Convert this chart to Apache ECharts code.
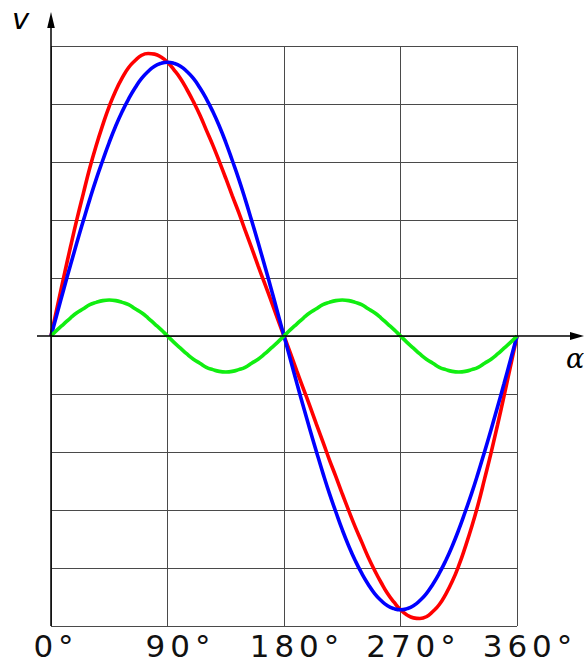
<!DOCTYPE html>
<html><head><meta charset="utf-8">
<script src="https://cdn.jsdelivr.net/npm/echarts@6/dist/echarts.min.js"></script>
<style>
html,body{margin:0;padding:0;background:#fff;}
#c{width:584px;height:662px;}
</style></head><body><div id="c"></div>
<script>
// angle (degrees)
const angles = [0,5,10,15,20,25,30,35,40,45,50,55,60,65,70,75,80,85,90,
  95,100,105,110,115,120,125,130,135,140,145,150,155,160,165,170,175,180,
  185,190,195,200,205,210,215,220,225,230,235,240,245,250,255,260,265,270,
  275,280,285,290,295,300,305,310,315,320,325,330,335,340,345,350,355,360];
// blue: fundamental
const blue = [0,0.41,0.82,1.22,1.61,1.99,2.36,2.71,3.03,3.34,3.62,3.87,4.09,4.28,4.44,4.56,4.65,4.70,4.72,
  4.70,4.65,4.56,4.44,4.28,4.09,3.87,3.62,3.34,3.03,2.71,2.36,1.99,1.61,1.22,0.82,0.41,0,
  -0.41,-0.82,-1.22,-1.61,-1.99,-2.36,-2.71,-3.03,-3.34,-3.62,-3.87,-4.09,-4.28,-4.44,-4.56,-4.65,-4.70,-4.72,
  -4.70,-4.65,-4.56,-4.44,-4.28,-4.09,-3.87,-3.62,-3.34,-3.03,-2.71,-2.36,-1.99,-1.61,-1.22,-0.82,-0.41,0];
// green: second harmonic
const green = [0,0.11,0.21,0.31,0.40,0.47,0.54,0.58,0.61,0.62,0.61,0.58,0.54,0.47,0.40,0.31,0.21,0.11,0,
  -0.11,-0.21,-0.31,-0.40,-0.47,-0.54,-0.58,-0.61,-0.62,-0.61,-0.58,-0.54,-0.47,-0.40,-0.31,-0.21,-0.11,0,
  0.11,0.21,0.31,0.40,0.47,0.54,0.58,0.61,0.62,0.61,0.58,0.54,0.47,0.40,0.31,0.21,0.11,0,
  -0.11,-0.21,-0.31,-0.40,-0.47,-0.54,-0.58,-0.61,-0.62,-0.61,-0.58,-0.54,-0.47,-0.40,-0.31,-0.21,-0.11,0];
// red: resultant
const red = [0,0.52,1.03,1.53,2.01,2.46,2.90,3.29,3.64,3.96,4.23,4.45,4.63,4.75,4.84,4.87,4.86,4.81,4.72,
  4.59,4.44,4.25,4.04,3.81,3.55,3.29,3.01,2.72,2.42,2.13,1.82,1.52,1.21,0.91,0.61,0.30,0,
  -0.30,-0.61,-0.91,-1.21,-1.52,-1.82,-2.13,-2.42,-2.72,-3.01,-3.29,-3.55,-3.81,-4.04,-4.25,-4.44,-4.59,-4.72,
  -4.81,-4.86,-4.87,-4.84,-4.75,-4.63,-4.45,-4.23,-3.96,-3.64,-3.29,-2.90,-2.46,-2.01,-1.53,-1.03,-0.52,0];
const xTicks = [0,90,180,270,360];
const xTickLabels = ['0°','90°','180°','270°','360°'];
const yAxisName = 'v';
const xAxisName = 'α';

const chart = echarts.init(document.getElementById('c'), null, {renderer:'svg'});
const pairs = arr => angles.map((a,i)=>[a,arr[i]]);
const gridColor = '#4a4a4a';
const lblStyle = {fontSize:31,color:'#111',fontFamily:'DejaVu Sans'};
chart.setOption({
  animation:false,
  backgroundColor:'#fff',
  grid:{left:51,right:67,top:46,bottom:36},
  xAxis:{type:'value',min:0,max:360,interval:90,
    axisLine:{show:false,onZero:false},axisTick:{show:false},
    splitLine:{show:true,lineStyle:{color:gridColor,width:1}},
    axisLabel:{show:true,margin:4,...lblStyle,
      rich:{s:Object.assign({padding:[0,0,0,10]},lblStyle),l:Object.assign({padding:[0,0,0,26]},lblStyle)},
      formatter:v=>{const k=xTicks.indexOf(v);if(k<0)return '';const t=xTickLabels[k];return (t.length<=2?'{s|':'{l|')+t+'}';}}},
  yAxis:{type:'value',min:-5,max:5,interval:1,
    axisLine:{show:false},axisTick:{show:false},axisLabel:{show:false},
    splitLine:{show:true,lineStyle:{color:gridColor,width:1}}},
  series:[
    {type:'line',data:pairs(red),smooth:true,symbol:'none',lineStyle:{color:'#ff0000',width:3.6},z:3},
    {type:'line',data:pairs(blue),smooth:true,symbol:'none',lineStyle:{color:'#0000ff',width:3.6},z:4},
    {type:'line',data:pairs(green),smooth:true,symbol:'none',lineStyle:{color:'#11ee11',width:3.6},z:5}
  ]
});
const o = chart.convertToPixel({gridIndex:0},[0,0]);
const bl = chart.convertToPixel({gridIndex:0},[0,-5]);
const x0=o[0], y0=o[1];
chart.setOption({graphic:[
  {type:'line',shape:{x1:37,y1:y0,x2:574,y2:y0},style:{stroke:'#000',lineWidth:1.5},z:10},
  {type:'polygon',shape:{points:[[584,y0],[570,y0-4],[570,y0+4]]},style:{fill:'#000'},z:10},
  {type:'line',shape:{x1:x0,y1:bl[1],x2:x0,y2:26},style:{stroke:'#000',lineWidth:1.5},z:10},
  {type:'polygon',shape:{points:[[x0,12],[x0-3.8,28],[x0+3.8,28]]},style:{fill:'#000'},z:10},
  {type:'text',x:12,y:33,style:{text:yAxisName,font:'italic 29px "DejaVu Sans"',fill:'#000',verticalAlign:'bottom',align:'left'},z:10},
  {type:'text',x:566,y:372,style:{text:xAxisName,font:'italic 27px "DejaVu Serif"',fill:'#000',verticalAlign:'bottom',align:'left'},z:10}
]});
function spaceLabels(){
  document.querySelectorAll('#c svg text').forEach(t=>{
    if(xTickLabels.includes(t.textContent.trim())) t.style.letterSpacing='5px';
  });
}
spaceLabels();
chart.on('finished', spaceLabels);
</script></body></html>
